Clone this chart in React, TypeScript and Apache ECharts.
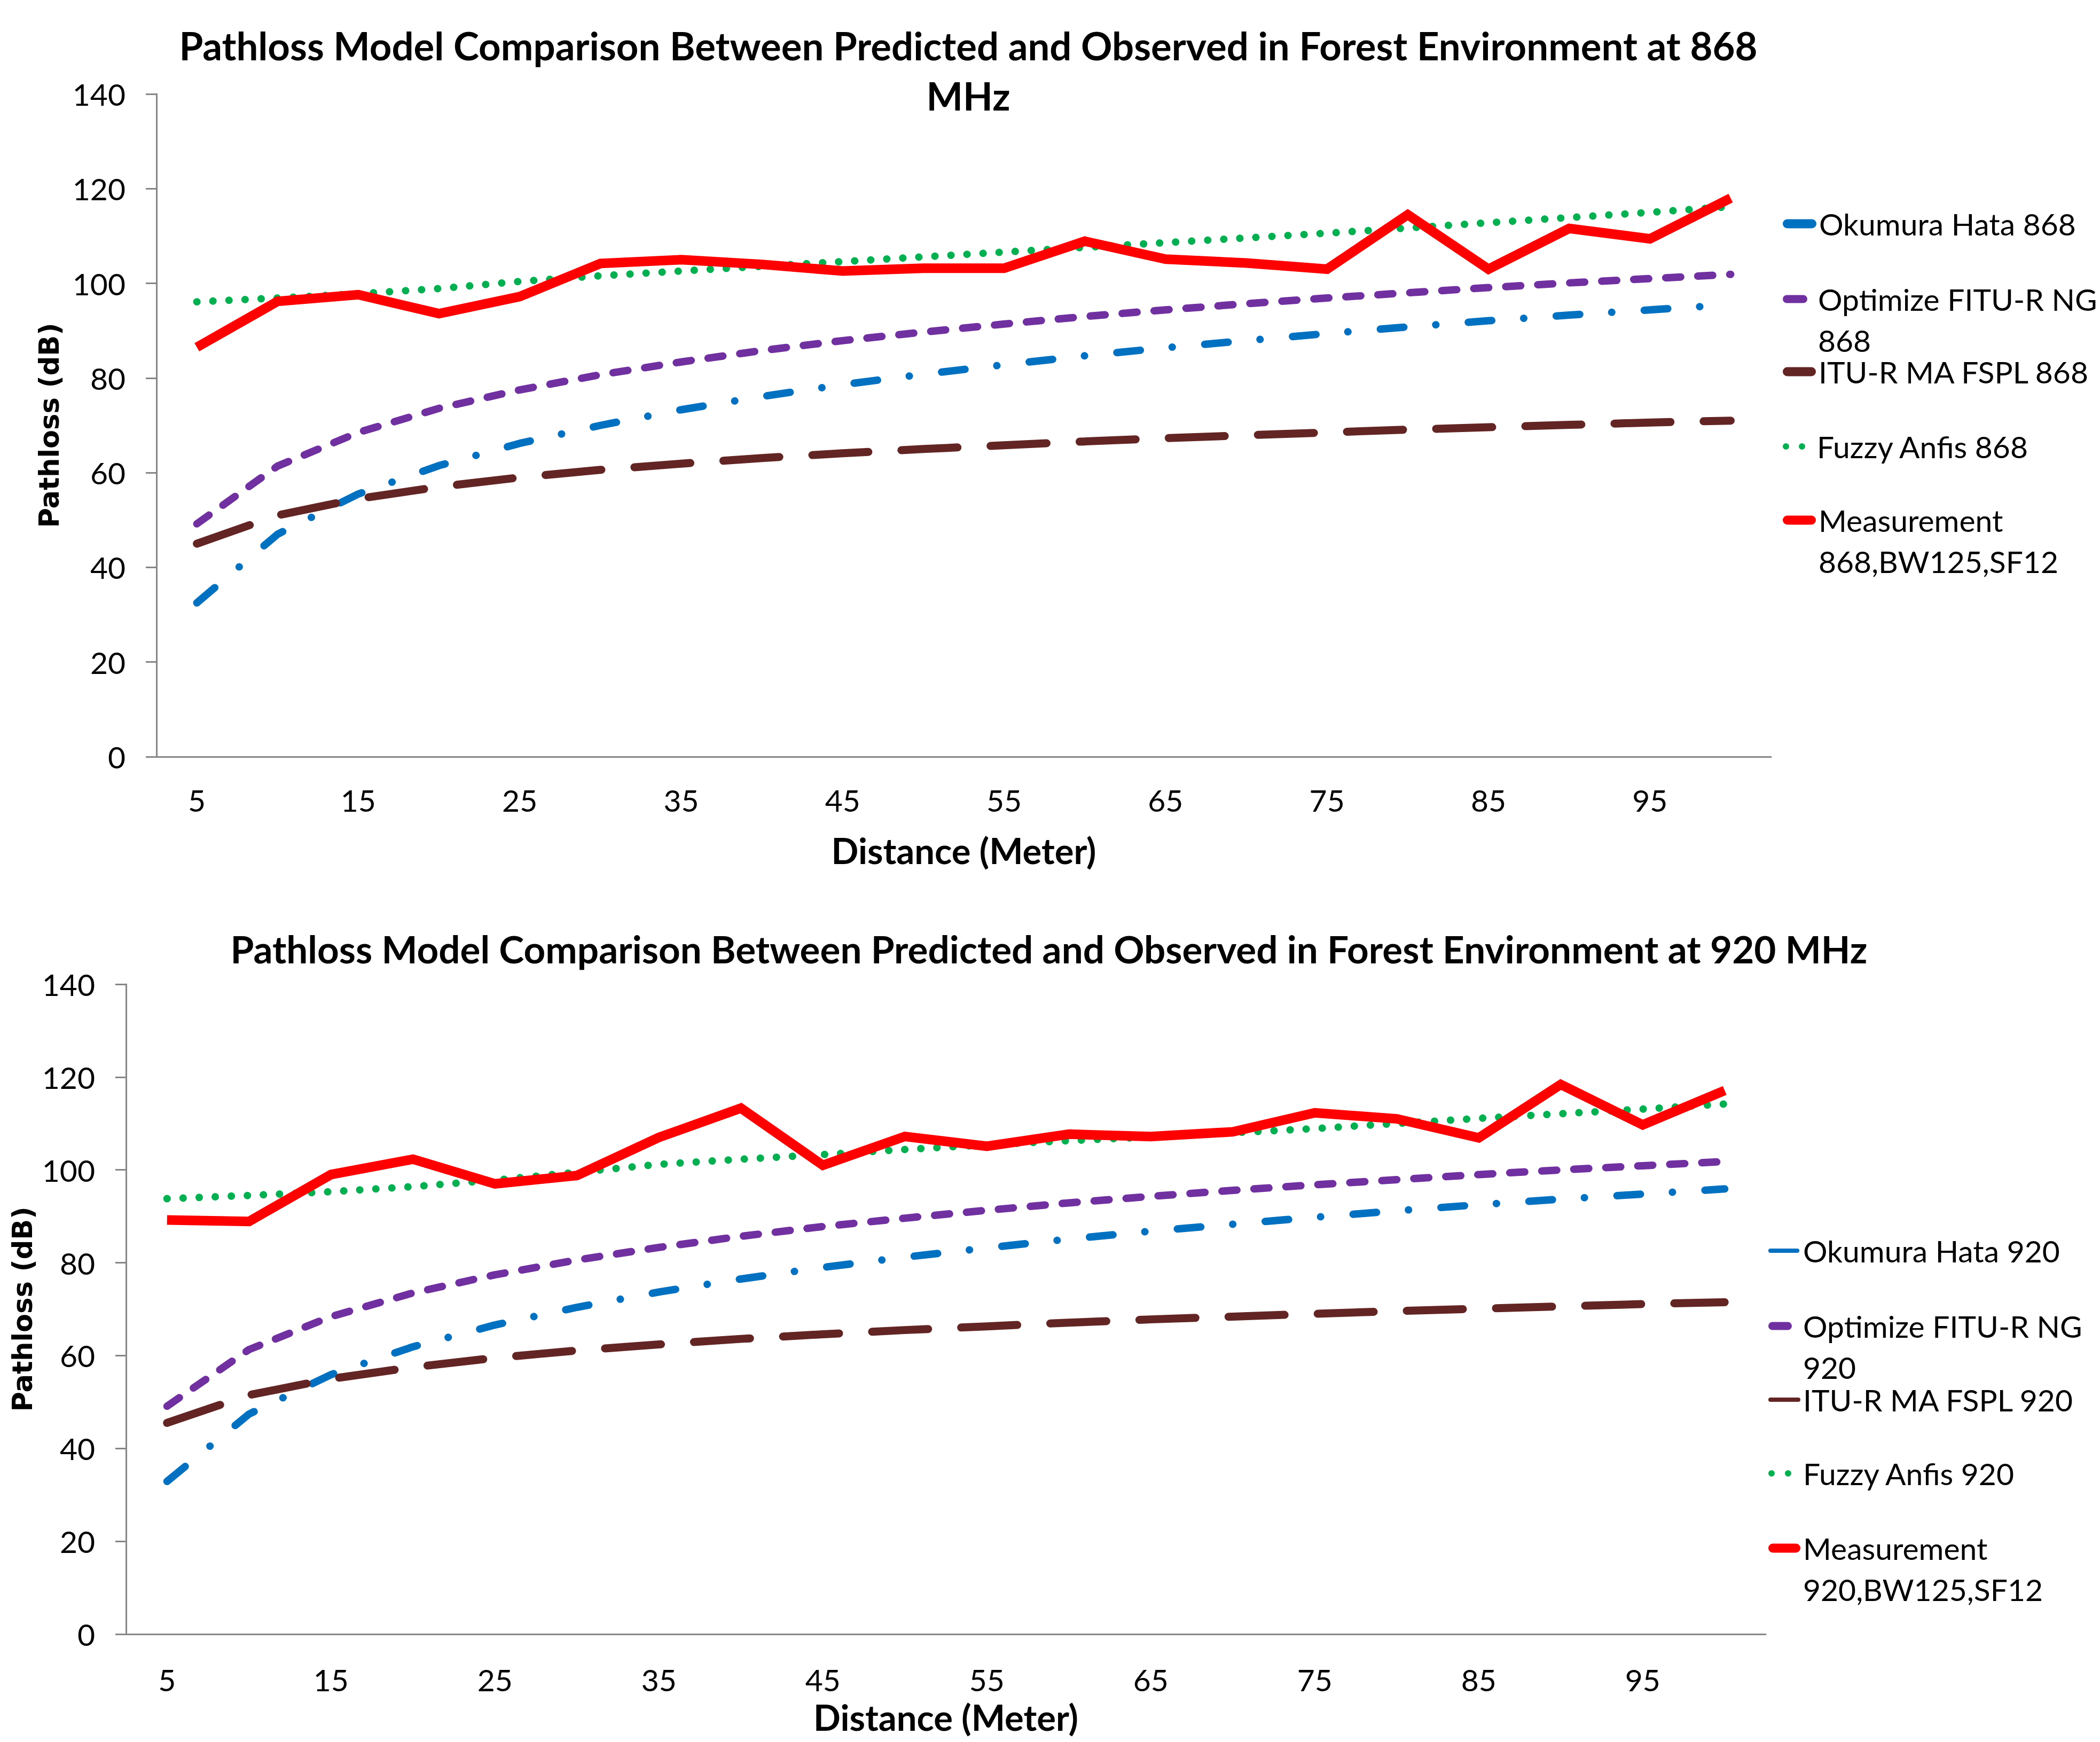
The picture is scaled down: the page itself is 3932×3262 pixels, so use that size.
import React, { useEffect, useRef } from "react";
import * as echarts from "echarts";

// ---------- data ----------
const distances = ["5", "10", "15", "20", "25", "30", "35", "40", "45", "50", "55", "60", "65", "70", "75", "80", "85", "90", "95", "100"];

const okumura868 = [32.5, 47.0, 55.5, 61.5, 66.2, 70.0, 73.3, 76.1, 78.6, 80.8, 82.8, 84.7, 86.4, 87.9, 89.4, 90.8, 92.1, 93.3, 94.4, 95.5];
const optimize868 = [49.2, 61.4, 68.5, 73.6, 77.5, 80.7, 83.4, 85.8, 87.9, 89.7, 91.4, 93.0, 94.4, 95.7, 96.9, 98.0, 99.1, 100.1, 101.0, 101.9];
const itu868 = [45.0, 51.0, 54.5, 57.0, 59.0, 60.6, 61.9, 63.1, 64.1, 65.0, 65.8, 66.6, 67.3, 67.9, 68.5, 69.1, 69.6, 70.1, 70.6, 71.0];
const fuzzy868 = [96.1, 96.9, 97.8, 98.9, 100.4, 101.6, 102.6, 103.6, 104.6, 105.6, 106.6, 107.6, 108.6, 109.6, 110.6, 111.7, 112.8, 113.9, 115.0, 116.2];
const measurement868 = [86.5, 96.2, 97.6, 93.6, 97.2, 104.2, 105.0, 104.0, 102.6, 103.2, 103.2, 108.9, 105.1, 104.3, 103.0, 114.5, 103.0, 111.6, 109.4, 118.0];

const okumura920 = [32.9, 47.4, 55.9, 61.9, 66.6, 70.4, 73.7, 76.5, 79.0, 81.2, 83.2, 85.1, 86.8, 88.3, 89.8, 91.2, 92.5, 93.7, 94.8, 95.9];
const optimize920 = [49.1, 61.3, 68.4, 73.5, 77.4, 80.6, 83.3, 85.7, 87.8, 89.6, 91.3, 92.9, 94.3, 95.6, 96.8, 97.9, 99.0, 100.0, 100.9, 101.8];
const itu920 = [45.5, 51.5, 55.0, 57.5, 59.5, 61.1, 62.4, 63.6, 64.6, 65.5, 66.3, 67.1, 67.8, 68.4, 69.0, 69.6, 70.1, 70.6, 71.1, 71.5];
const fuzzy920 = [93.8, 94.5, 95.3, 96.4, 97.8, 99.5, 101.2, 102.3, 103.3, 104.4, 105.4, 106.3, 107.1, 108.0, 108.9, 110.0, 111.1, 112.1, 113.1, 114.2];
const measurement920 = [89.2, 88.9, 99.0, 102.3, 97.0, 98.8, 107.0, 113.3, 101.0, 107.2, 105.1, 107.7, 107.2, 108.2, 112.3, 111.0, 106.9, 118.4, 109.7, 117.1];

const names868 = ["Okumura Hata 868", "Optimize FITU-R NG 868", "ITU-R MA FSPL 868", "Fuzzy Anfis 868", "Measurement 868,BW125,SF12"];
const names920 = ["Okumura Hata 920", "Optimize FITU-R NG 920", "ITU-R MA FSPL 920", "Fuzzy Anfis 920", "Measurement 920,BW125,SF12"];
const legendLines868 = [["Okumura Hata 868"], ["Optimize FITU-R NG", "868"], ["ITU-R MA FSPL 868"], ["Fuzzy Anfis 868"], ["Measurement", "868,BW125,SF12"]];
const legendLines920 = [["Okumura Hata 920"], ["Optimize FITU-R NG", "920"], ["ITU-R MA FSPL 920"], ["Fuzzy Anfis 920"], ["Measurement", "920,BW125,SF12"]];

const title868 = "Pathloss Model Comparison Between Predicted and Observed in Forest Environment at 868\nMHz";
const title920 = "Pathloss Model Comparison Between Predicted and Observed in Forest Environment at 920 MHz";
const xName = "Distance (Meter)";
const yName = "Pathloss (dB)";
const yMin = 0;
const yMax = 140;
const yStep = 20;

// ---------- styles ----------
const COLORS = ["#0070C0", "#7030A0", "#632523", "#00B050", "#FF0000"];
const LINE_STYLES: any[] = [
  { color: COLORS[0], width: 14, type: [44, 60, 0.1, 61], cap: "round", join: "round" },
  { color: COLORS[1], width: 14, type: [28, 32], cap: "round", join: "round" },
  { color: COLORS[2], width: 15, type: [105, 62], cap: "round", join: "round" },
  { color: COLORS[3], width: 14, type: [0.1, 30], cap: "round", join: "round" },
  { color: COLORS[4], width: 18, type: "solid", cap: "butt", join: "miter" },
];

const FONT = "Lato";
const LEG_FONT = 57;
const LEG_LH = 77;

function capsule(w: number, h: number) {
  const r = h / 2;
  return `path://M${r},0H${w - r}A${r},${r} 0 0 1 ${w - r},${h}H${r}A${r},${r} 0 0 1 ${r},0Z`;
}
function dots(w: number, d: number) {
  const r = d / 2;
  return `path://M0,${r}a${r},${r} 0 1,0 ${d},0a${r},${r} 0 1,0 ${-d},0zM${w - d},${r}a${r},${r} 0 1,0 ${d},0a${r},${r} 0 1,0 ${-d},0z`;
}

type LegSpec = { icon: string; w: number; h: number; padLeft: number };

function buildLegends(names: string[], lines: string[][], left: number, centers: number[], specs: LegSpec[]) {
  return names.map((name, i) => {
    const s = specs[i];
    const twoLine = lines[i].length > 1;
    // first text line is kept level with the icon: a blank line above balances the second line
    const parts = twoLine ? [" ", lines[i][0], lines[i][1]] : [lines[i][0]];
    const rich = `{t|${parts.join("}\n{t|")}}`;
    return {
      show: true,
      orient: "vertical",
      left,
      top: centers[i] - (twoLine ? 1.5 : 0.5) * LEG_LH,
      padding: 0,
      itemGap: 0,
      itemWidth: s.w,
      itemHeight: s.h,
      selectedMode: false,
      data: [{ name, icon: s.icon, itemStyle: { color: COLORS[i], borderWidth: 0, opacity: 1 } }],
      formatter: () => rich,
      textStyle: {
        fontFamily: FONT,
        fontSize: LEG_FONT,
        color: "#000",
        rich: {
          t: { fontFamily: FONT, fontSize: LEG_FONT, lineHeight: LEG_LH, color: "#000", padding: [0, 0, 0, s.padLeft] },
        },
      },
    };
  });
}

const topSpecs: LegSpec[] = [
  { icon: capsule(63, 17), w: 63, h: 17, padLeft: 0 },
  { icon: capsule(46, 15), w: 46, h: 15, padLeft: 15 },
  { icon: capsule(62, 17), w: 62, h: 17, padLeft: 0 },
  { icon: dots(42, 12), w: 42, h: 12, padLeft: 17 },
  { icon: capsule(62, 17), w: 62, h: 17, padLeft: 0 },
];
const botSpecs: LegSpec[] = [
  { icon: capsule(58, 8), w: 58, h: 8, padLeft: 2 },
  { icon: capsule(44, 15), w: 44, h: 15, padLeft: 16 },
  { icon: capsule(60, 8), w: 60, h: 8, padLeft: 0 },
  { icon: dots(43, 12), w: 43, h: 12, padLeft: 17 },
  { icon: capsule(60, 17), w: 60, h: 17, padLeft: 0 },
];

function axisPair(gridIndex: number, labelMargin: number, nameGapX: number, nameGapY: number) {
  const x = {
    type: "category",
    gridIndex,
    data: distances,
    boundaryGap: true,
    axisLine: { show: true, lineStyle: { color: "#868686", width: 3 } },
    axisTick: { show: false },
    axisLabel: { interval: 1, margin: labelMargin, fontFamily: FONT, fontSize: 57, lineHeight: 60, color: "#000" },
    splitLine: { show: false },
    name: xName,
    nameLocation: "middle",
    nameGap: nameGapX,
    nameTextStyle: { fontFamily: FONT, fontWeight: "bold", fontSize: 67, lineHeight: 64, color: "#000" },
  };
  const y = {
    type: "value",
    gridIndex,
    min: yMin,
    max: yMax,
    interval: yStep,
    axisLine: { show: true, lineStyle: { color: "#868686", width: 3 } },
    axisTick: { show: true, inside: false, length: 20, lineStyle: { color: "#868686", width: 3 } },
    axisLabel: { margin: 58, fontFamily: FONT, fontSize: 57, color: "#000" },
    splitLine: { show: false },
    name: yName,
    nameLocation: "middle",
    nameGap: nameGapY,
    nameTextStyle: { fontFamily: "'DejaVu Sans', 'Verdana', sans-serif", fontWeight: "bold", fontSize: 51, color: "#000" },
  };
  return { x, y };
}

function buildSeries(names: string[], datas: number[][], idx: number) {
  return names.map((name, i) => ({
    type: "line",
    name,
    data: datas[i],
    xAxisIndex: idx,
    yAxisIndex: idx,
    symbol: "none",
    showSymbol: false,
    silent: true,
    z: 2 + i,
    itemStyle: { color: COLORS[i] },
    lineStyle: LINE_STYLES[i],
  }));
}

export default function App() {
  const ref = useRef<HTMLDivElement>(null);
  useEffect(() => {
    document.body.style.margin = "0";
    if (!ref.current) return;
    const chart = echarts.init(ref.current, null, { renderer: "svg" });
    const a1 = axisPair(0, 51, 143, 175);
    const a2 = axisPair(1, 55, 123, 152);
    const titleStyle1 = { fontFamily: FONT, fontWeight: "bold", fontSize: 72.5, lineHeight: 94, color: "#000" };
    const titleStyle2 = { fontFamily: FONT, fontWeight: "bold", fontSize: 71, lineHeight: 94, color: "#000" };
    const option: any = {
      animation: false,
      backgroundColor: "#ffffff",
      title: [
        { text: title868, left: 1813, top: 37, padding: 0, textAlign: "center", textStyle: titleStyle1 },
        { text: title920, left: 1964, top: 1729, padding: 0, textAlign: "center", textStyle: titleStyle2 },
      ],
      grid: [
        { left: 293, top: 176, width: 3023, height: 1241, containLabel: false },
        { left: 236, top: 1843, width: 3070, height: 1217, containLabel: false },
      ],
      xAxis: [a1.x, a2.x],
      yAxis: [a1.y, a2.y],
      legend: [
        ...buildLegends(names868, legendLines868, 3338, [429, 570, 706, 846, 984], topSpecs),
        ...buildLegends(names920, legendLines920, 3311, [2352, 2493, 2631, 2769, 2909], botSpecs),
      ],
      series: [
        ...buildSeries(names868, [okumura868, optimize868, itu868, fuzzy868, measurement868], 0),
        ...buildSeries(names920, [okumura920, optimize920, itu920, fuzzy920, measurement920], 1),
      ],
    };
    chart.setOption(option);
    return () => chart.dispose();
  }, []);
  return <div ref={ref} style={{ width: 3932, height: 3262 }} />;
}
